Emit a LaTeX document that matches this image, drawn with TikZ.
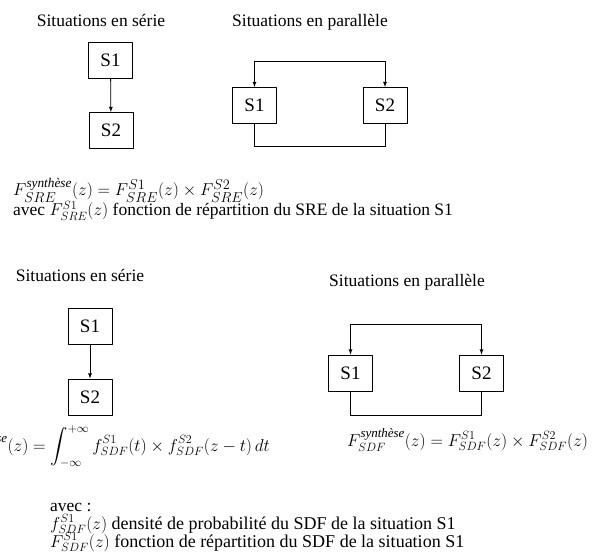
\documentclass[tikz,border=0pt]{standalone}
\usepackage{amsmath}
\usepackage{fontspec}
\setmainfont{Liberation Serif}

\newcommand{\synth}{\text{\itshape synthèse}}
\newcommand{\mth}[1]{{\fontsize{18.5}{20}\selectfont$#1$}}

\tikzset{
  sitbox/.style={draw,line width=0.8pt,minimum width=44pt,minimum height=36pt,
    inner sep=0pt,font=\fontsize{19}{21}\selectfont},
  titre/.style={inner sep=0pt,anchor=base,font=\fontsize{17.5}{19}\selectfont},
  formule/.style={inner sep=0pt,anchor=base west,font=\fontsize{17.5}{19}\selectfont},
  lien/.style={line width=0.8pt},
}

\begin{document}
\begin{tikzpicture}[x=1pt,y=-1pt,line cap=round,line join=round]
        \useasboundingbox (0,0) rectangle (608,556);
        \clip (0,0) rectangle (608,556);

        % SRE : serie
        \node[titre] (tserie) at (101,27) {Situations en série};
        \node[sitbox] (s1) at (110.5,60) {S1};
        \node[sitbox] (s2) at (111,130.5) {S2};
        \draw[lien,-latex] (s1) -- (s2);

        % SRE : parallele
        \node[titre] (tpara) at (310,27) {Situations en parallèle};
        \node[sitbox] (p1) at (254.5,105.5) {S1};
        \node[sitbox] (p2) at (385,105.5) {S2};
        \coordinate (pa) at ([yshift=26pt]p1.north);
        \draw[lien,-latex] (pa) -- (p1.north);
        \draw[lien,-latex] (pa) -| (p2.north);
        \draw[lien] (p1.south) |- ([yshift=-23pt]p2.south) -- (p2.south);

        \node[formule] (fsre) at (13,196)
            {{\fontsize{19}{21}\selectfont$F_{SRE}^{\synth}(z)=F_{SRE}^{S1}(z)\times F_{SRE}^{S2}(z)$}};
        \node[formule] (avsre) at (13,216)
            {avec \mth{F_{SRE}^{S1}(z)} fonction de répartition du SRE de la situation S1};

        % SDF : serie
        \node[titre] (tserie2) at (80,281) {Situations en série};
        \node[sitbox] (s3) at (90,326) {S1};
        \node[sitbox] (s4) at (90,397) {S2};
        \draw[lien,-latex] (s3) -- (s4);

        % SDF : parallele
        \node[titre] (tpara2) at (407,287) {Situations en parallèle};
        \node[sitbox] (p3) at (350.5,373) {S1};
        \node[sitbox] (p4) at (481.5,373) {S2};
        \coordinate (pb) at ([yshift=30pt]p3.north);
        \draw[lien,-latex] (pb) -- (p3.north);
        \draw[lien,-latex] (pb) -| (p4.north);
        \draw[lien] (p3.south) |- ([yshift=-24pt]p4.south) -- (p4.south);

        \node[formule,anchor=base east] (fconv) at (270,451)
            {\fontsize{18.5}{20}\selectfont$\displaystyle f_{SDF}^{\synth}(z)=\int_{-\infty}^{+\infty}
             f_{SDF}^{S1}(t)\times f_{SDF}^{S2}(z-t)\,dt$};
        \node[formule] (fsdf) at (347,446)
            {\mth{F_{SDF}^{\synth}(z)=F_{SDF}^{S1}(z)\times F_{SDF}^{S2}(z)}};

        \node[formule] (avec) at (50,511) {avec :};
        \node[formule,font=\fontsize{18}{20}\selectfont] (dens) at (50,529)
            {\mth{f_{SDF}^{S1}(z)} densité de probabilité du SDF de la situation S1};
        \node[formule,font=\fontsize{18}{20}\selectfont] (rep) at (50,547)
            {\mth{F_{SDF}^{S1}(z)} fonction de répartition du SDF de la situation S1};
    \end{tikzpicture}
\end{document}
